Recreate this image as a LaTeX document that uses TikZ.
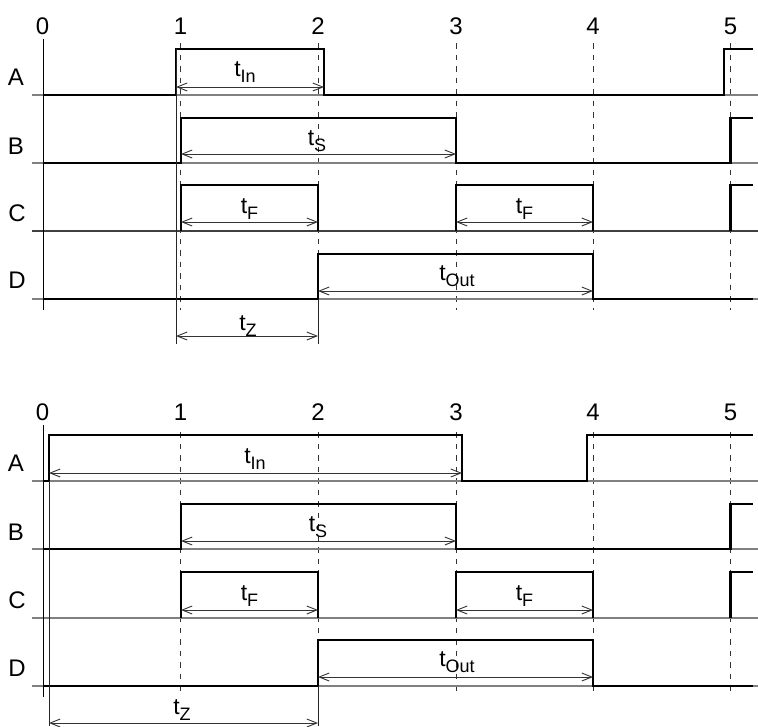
\documentclass[tikz,border=0pt]{standalone}
\usepackage{fontspec}
\setmainfont{Liberation Sans}
\usetikzlibrary{arrows.meta}
\tikzset{
  sig/.style={line width=2.1pt, black, line join=miter},
  baseln/.style={line width=1.2pt, black!50},
  cbase/.style={line width=1.1pt, black!75},
  axisln/.style={line width=1pt, black},
  gridln/.style={line width=1pt, black!80, dash pattern=on 5.5pt off 6pt},
  dimln/.style={line width=0.9pt, black!80, {Straight Barb[length=10pt,width=8pt]}-{Straight Barb[length=10pt,width=8pt]}},
  extln/.style={line width=0.8pt, black!85},
  ticklab/.style={font=\fontsize{24}{24}\selectfont, inner sep=0pt, anchor=base},
  rowlab/.style={font=\fontsize{24}{24}\selectfont, inner sep=0pt, anchor=base},
  tlab/.style={font=\fontsize{23}{23}\selectfont, inner sep=0pt, anchor=base},
}
\newcommand{\tsub}[1]{t\raisebox{-6.5pt}{\fontsize{18}{18}\selectfont #1}}
\begin{document}
\begin{tikzpicture}[x=1pt,y=-1pt]
\useasboundingbox (0,0) rectangle (758,726);

% ================= TOP DIAGRAM =================
\foreach \n/\x in {0/42.5,1/180.5,2/318,3/456,4/593,5/730.5}
  \node[ticklab] (tt\n) at (\x,34) {\n};
\foreach \x in {180.5,318,456,593,730.5}
  \draw[gridln] (\x,43) -- (\x,310);
\foreach \y in {95,163,299}
  \draw[baseln] (32,\y) -- (758,\y);
\draw[cbase] (32,231) -- (758,231);
\draw[axisln] (43,39) -- (43,310);
\node[rowlab] (ta) at (16,85) {A};
\node[rowlab] (tb) at (16,154) {B};
\node[rowlab] (tc) at (17,221) {C};
\node[rowlab] (td) at (17,288) {D};
% signals
\draw[sig] (43,95) -- (176,95) -- (176,49) -- (324,49) -- (324,95) -- (724,95) -- (724,49) -- (753,49);
\draw[sig] (43,163) -- (181,163) -- (181,118) -- (456,118) -- (456,163) -- (730.5,163) -- (730.5,118) -- (753,118);
\draw[sig] (181,231) -- (181,185) -- (318,185) -- (318,231);
\draw[sig] (456,231) -- (456,185) -- (593,185) -- (593,231);
\draw[sig] (730.5,231) -- (730.5,185) -- (753,185);
\draw[sig] (43,299) -- (318,299) -- (318,254) -- (593,254) -- (593,299) -- (753,299);
% extension lines
\coordinate (tzl1) at (176,49);
\coordinate (tzl2) at (176,344);
\coordinate (tzr1) at (318,299);
\coordinate (tzr2) at (318,344);
\draw[extln] (tzl1) -- (tzl2);
\draw[extln] (tzr1) -- (tzr2);
% dimension arrows
\coordinate (tin1) at (176,87);  \coordinate (tin2) at (324,87);
\coordinate (ts1) at (181,154);  \coordinate (ts2) at (456,154);
\coordinate (tf1) at (181,222);  \coordinate (tf2) at (318,222);
\coordinate (tf3) at (456,222);  \coordinate (tf4) at (593,222);
\coordinate (to1) at (318,291);  \coordinate (to2) at (593,291);
\coordinate (tz1) at (176,336);  \coordinate (tz2) at (318,336);
\draw[dimln] (tin1) -- (tin2);
\draw[dimln] (ts1) -- (ts2);
\draw[dimln] (tf1) -- (tf2);
\draw[dimln] (tf3) -- (tf4);
\draw[dimln] (to1) -- (to2);
\draw[dimln] (tz1) -- (tz2);
\node[tlab] (ltin) at (245,76) {\tsub{In}};
\node[tlab] (lts) at (317,145) {\tsub{S}};
\node[tlab] (ltf1) at (249.5,213) {\tsub{F}};
\node[tlab] (ltf2) at (524.5,213) {\tsub{F}};
\node[tlab] (lto) at (457,280) {\tsub{Out}};
\node[tlab] (ltz) at (248,330) {\tsub{Z}};

% ================= BOTTOM DIAGRAM =================
\foreach \n/\x in {0/42.5,1/180.5,2/318,3/456,4/593,5/730.5}
  \node[ticklab] (bt\n) at (\x,420) {\n};
\foreach \x in {180.5,318,456,593,730.5}
  \draw[gridln] (\x,432) -- (\x,695);
\foreach \y in {481,549,618,686}
  \draw[baseln] (32,\y) -- (758,\y);
\draw[axisln] (43,425) -- (43,697);
\node[rowlab] (ba) at (16,471) {A};
\node[rowlab] (bb) at (16,540) {B};
\node[rowlab] (bc) at (17,608) {C};
\node[rowlab] (bd) at (17,676) {D};
% signals
\draw[sig] (43,481) -- (49,481) -- (49,435) -- (462,435) -- (462,481) -- (587,481) -- (587,435) -- (753,435);
\draw[sig] (43,549) -- (181,549) -- (181,504) -- (456,504) -- (456,549) -- (730.5,549) -- (730.5,504) -- (753,504);
\draw[sig] (181,618) -- (181,572) -- (318,572) -- (318,618);
\draw[sig] (456,618) -- (456,572) -- (593,572) -- (593,618);
\draw[sig] (730.5,618) -- (730.5,572) -- (753,572);
\draw[sig] (43,686) -- (318,686) -- (318,640) -- (593,640) -- (593,686) -- (753,686);
% extension lines
\coordinate (bzl1) at (49,481);
\coordinate (bzl2) at (49,726);
\coordinate (bzr1) at (318,686);
\coordinate (bzr2) at (318,726);
\draw[extln] (bzl1) -- (bzl2);
\draw[extln] (bzr1) -- (bzr2);
% dimension arrows
\coordinate (bin1) at (49,473);   \coordinate (bin2) at (462,473);
\coordinate (bs1) at (181,541);   \coordinate (bs2) at (456,541);
\coordinate (bf1) at (181,610);   \coordinate (bf2) at (318,610);
\coordinate (bf3) at (456,610);   \coordinate (bf4) at (593,610);
\coordinate (bo1) at (318,677);   \coordinate (bo2) at (593,677);
\coordinate (bz1) at (49,723);    \coordinate (bz2) at (318,723);
\draw[dimln] (bin1) -- (bin2);
\draw[dimln] (bs1) -- (bs2);
\draw[dimln] (bf1) -- (bf2);
\draw[dimln] (bf3) -- (bf4);
\draw[dimln] (bo1) -- (bo2);
\draw[dimln] (bz1) -- (bz2);
\node[tlab] (lbin) at (255,463) {\tsub{In}};
\node[tlab] (lbs) at (318,531) {\tsub{S}};
\node[tlab] (lbf1) at (249.5,600) {\tsub{F}};
\node[tlab] (lbf2) at (524.5,600) {\tsub{F}};
\node[tlab] (lbo) at (457,666) {\tsub{Out}};
\node[tlab] (lbz) at (182,714) {\tsub{Z}};
\end{tikzpicture}
\end{document}
